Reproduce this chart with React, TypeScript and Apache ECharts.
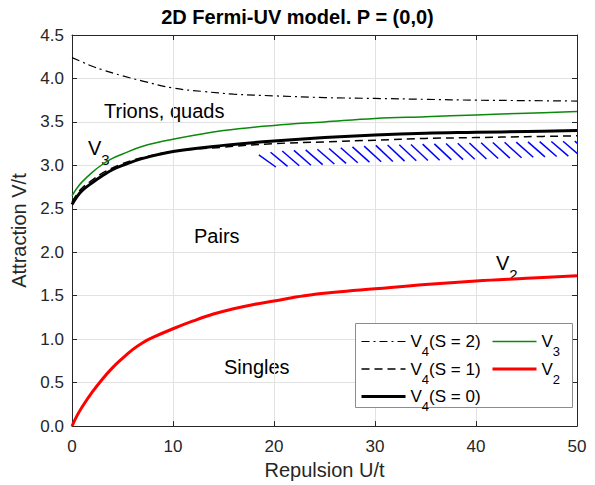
import React, { useEffect, useRef } from 'react';
import * as echarts from 'echarts';

const FONT = '"Liberation Sans", Arial, Helvetica, sans-serif';
const AXIS_COLOR = '#262626';
const GRID_COLOR = '#e2e2e2';

// V4(S = 2) dash-dot
const U_S2 = [0, 1, 2, 3, 5, 7, 10, 13, 16, 20, 25, 30, 35, 40, 45, 50];
const V_S2 = [4.24, 4.19, 4.14, 4.1, 4.03, 3.97, 3.89, 3.85, 3.82, 3.8, 3.78, 3.77, 3.76, 3.75, 3.745, 3.74];

// V4(S = 1) dashed
const U_S1 = [0, 0.5, 1, 2, 3, 4, 5, 7, 10, 15, 20, 25, 30, 35, 40, 45, 50];
const V_S1 = [2.58, 2.67, 2.74, 2.83, 2.91, 2.97, 3.02, 3.09, 3.16, 3.21, 3.25, 3.27, 3.29, 3.31, 3.32, 3.33, 3.34];

// V4(S = 0) thick black
const U_S0 = [0, 0.5, 1, 2, 3, 4, 5, 7, 10, 15, 20, 25, 30, 35, 40, 45, 50];
const V_S0 = [2.55, 2.64, 2.71, 2.8, 2.88, 2.95, 3.0, 3.08, 3.16, 3.23, 3.28, 3.32, 3.35, 3.37, 3.38, 3.39, 3.4];

// V3 green
const U_V3 = [0, 0.5, 1, 2, 3, 4, 5, 7, 10, 15, 20, 25, 30, 35, 40, 45, 50];
const V_V3 = [2.65, 2.74, 2.81, 2.92, 3.01, 3.08, 3.13, 3.22, 3.3, 3.4, 3.46, 3.5, 3.54, 3.56, 3.58, 3.6, 3.62];

// V2 red
const U_V2 = [0, 0.5, 1, 2, 3, 4, 5, 6, 7, 8, 10, 12, 14, 16, 18, 20, 23, 26, 30, 35, 40, 45, 50];
const V_V2 = [0, 0.12, 0.22, 0.39, 0.54, 0.67, 0.78, 0.88, 0.96, 1.02, 1.12, 1.21, 1.29, 1.35, 1.4, 1.44, 1.5, 1.54, 1.58, 1.63, 1.67, 1.7, 1.73];

// hatched region boundaries
const HATCH_U = [18.5, 20, 25, 30, 40, 50];
const HATCH_TOP = [3.12, 3.16, 3.19, 3.23, 3.26, 3.28];
const HATCH_BOTTOM = [2.95, 2.98, 3.01, 3.04, 3.07, 3.11];

const X_MIN = 0, X_MAX = 50, X_STEP = 10;
const Y_MIN = 0, Y_MAX = 4.5, Y_STEP = 0.5;

const NAMES = ['V4(S = 2)', 'V4(S = 1)', 'V4(S = 0)', 'V3', 'V2'];

const zip = (u: number[], v: number[]) => u.map((x, i) => [x, v[i]]);

const legendRich = {
  a: { fontSize: 17, fontFamily: FONT, color: '#000' },
  s: { fontSize: 13, fontFamily: FONT, color: '#000', padding: [20, 0, 0, 0] },
};
const annRich = {
  a: { fontSize: 20, fontFamily: FONT, fill: '#000' },
  s: { fontSize: 15, fontFamily: FONT, fill: '#000', padding: [22, 0, 0, 0] },
};

function interpY(pts: number[][], x: number) {
  if (x <= pts[0][0]) return pts[0][1];
  for (let i = 1; i < pts.length; i++) {
    if (x <= pts[i][0]) {
      const t = (x - pts[i - 1][0]) / (pts[i][0] - pts[i - 1][0]);
      return pts[i - 1][1] + t * (pts[i][1] - pts[i - 1][1]);
    }
  }
  return pts[pts.length - 1][1];
}

const legendCommon = {
  orient: 'vertical',
  itemWidth: 44,
  itemHeight: 14,
  itemGap: 2.5,
  padding: 0,
  selectedMode: false,
  lineStyle: { width: 'inherit', type: 'inherit' },
  itemStyle: { opacity: 0, color: 'rgba(0,0,0,0)', borderWidth: 0 },
  textStyle: { fontFamily: FONT, fontSize: 17, color: '#000', rich: legendRich },
  formatter: (name: string) => name.replace(/^V(\d)(.*)$/, (_m: string, d: string, rest: string) => (rest ? `{a|V}{s|${d}}{a|${rest}}` : `{a|V}{s|${d}}`)),
  z: 10,
};

export default function App() {
  const ref = useRef<HTMLDivElement>(null);
  useEffect(() => {
    if (!ref.current) return;
    const chart = echarts.init(ref.current, undefined, { renderer: 'svg' });
    const lineBase = { type: 'line', symbol: 'none', smooth: 0.4, z: 3 };
    const option: any = {
      animation: false,
      backgroundColor: '#fff',
      textStyle: { fontFamily: FONT },
      title: {
        text: '2D Fermi-UV model. P = (0,0)',
        left: 'center',
        top: 2,
        padding: [5, 0, 5, 54],
        textStyle: { fontFamily: FONT, fontSize: 20, fontWeight: 'bold', color: '#000' },
      },
      grid: { left: 72, right: 18, top: 35, bottom: 57, containLabel: false },
      xAxis: [
        {
          type: 'value', min: X_MIN, max: X_MAX, interval: X_STEP, position: 'bottom',
          name: 'Repulsion U/t', nameLocation: 'middle', nameGap: 30,
          nameTextStyle: { fontFamily: FONT, fontSize: 20, color: AXIS_COLOR },
          axisLine: { show: true, onZero: false, lineStyle: { color: AXIS_COLOR, width: 1 } },
          axisTick: { show: true, inside: true, length: 5, lineStyle: { color: AXIS_COLOR } },
          axisLabel: { fontFamily: FONT, fontSize: 17, color: AXIS_COLOR, margin: 12 },
          splitLine: { show: true, lineStyle: { color: GRID_COLOR, width: 1 } },
        },
        {
          type: 'value', min: X_MIN, max: X_MAX, interval: X_STEP, position: 'top',
          axisLine: { show: true, onZero: false, lineStyle: { color: AXIS_COLOR, width: 1 } },
          axisTick: { show: true, inside: true, length: 5, lineStyle: { color: AXIS_COLOR } },
          axisLabel: { show: false },
          splitLine: { show: false },
        },
      ],
      yAxis: [
        {
          type: 'value', min: Y_MIN, max: Y_MAX, interval: Y_STEP, position: 'left',
          name: 'Attraction V/t', nameLocation: 'middle', nameGap: 40,
          nameTextStyle: { fontFamily: FONT, fontSize: 20, color: AXIS_COLOR },
          axisLine: { show: true, onZero: false, lineStyle: { color: AXIS_COLOR, width: 1 } },
          axisTick: { show: true, inside: true, length: 5, lineStyle: { color: AXIS_COLOR } },
          axisLabel: {
            fontFamily: FONT, fontSize: 17, color: AXIS_COLOR, margin: 8,
            formatter: (v: number) => v.toFixed(1),
          },
          splitLine: { show: true, lineStyle: { color: GRID_COLOR, width: 1 } },
        },
        {
          type: 'value', min: Y_MIN, max: Y_MAX, interval: Y_STEP, position: 'right',
          axisLine: { show: true, onZero: false, lineStyle: { color: AXIS_COLOR, width: 1 } },
          axisTick: { show: true, inside: true, length: 5, lineStyle: { color: AXIS_COLOR } },
          axisLabel: { show: false },
          splitLine: { show: false },
        },
      ],
      legend: [
        { ...legendCommon, data: NAMES.slice(0, 3), left: 360, top: 333 },
        { ...legendCommon, data: NAMES.slice(3), left: 491, top: 333 },
      ],
      graphic: [
        {
          type: 'rect', left: 355, top: 323, z: 8,
          shape: { width: 217, height: 84 },
          style: { fill: '#fff', stroke: '#8c8c8c', lineWidth: 1 },
        },
        { type: 'text', left: 104, top: 101, style: { text: 'Trions, quads', font: `20px ${FONT}`, fill: '#000' } },
        { type: 'text', left: 194, top: 226, style: { text: 'Pairs', font: `20px ${FONT}`, fill: '#000' } },
        { type: 'text', left: 224, top: 357, style: { text: 'Singles', font: `20px ${FONT}`, fill: '#000' } },
        { type: 'text', left: 88, top: 138, style: { text: '{a|V}{s|3}', rich: annRich, fill: '#000' } },
        { type: 'text', left: 496, top: 253, style: { text: '{a|V}{s|2}', rich: annRich, fill: '#000' } },
      ],
      series: [
        {
          type: 'custom',
          name: 'hatch',
          clip: true,
          silent: true,
          z: 2,
          data: [[HATCH_U[0], HATCH_TOP[0]]],
          renderItem: (_params: any, api: any) => {
            const top = HATCH_U.map((u, i) => api.coord([u, HATCH_TOP[i]]));
            const bot = HATCH_U.map((u, i) => api.coord([u, HATCH_BOTTOM[i]]));
            const x0 = top[0][0];
            const x1 = top[top.length - 1][0];
            const spacing = 11.7;
            const dx = 17;
            const children: any[] = [];
            for (let x = x0; x <= x1 + 0.1; x += spacing) {
              const xe = x + dx;
              children.push({
                type: 'line',
                shape: { x1: x, y1: interpY(top, x), x2: xe, y2: interpY(bot, Math.min(xe, x1)) },
                style: { stroke: '#0000ff', lineWidth: 1.5 },
              });
            }
            return { type: 'group', children };
          },
        },
        { ...lineBase, name: NAMES[0], data: zip(U_S2, V_S2), lineStyle: { color: '#000', width: 1.2, type: [8, 4, 2, 4] } },
        { ...lineBase, name: NAMES[1], data: zip(U_S1, V_S1), lineStyle: { color: '#000', width: 1.5, type: [8, 5] } },
        { ...lineBase, name: NAMES[2], data: zip(U_S0, V_S0), lineStyle: { color: '#000', width: 3 } },
        { ...lineBase, name: NAMES[3], data: zip(U_V3, V_V3), lineStyle: { color: '#0a8a0a', width: 1.5 } },
        { ...lineBase, name: NAMES[4], data: zip(U_V2, V_V2), lineStyle: { color: '#ff0000', width: 3 } },
      ],
    };
    chart.setOption(option);
    return () => chart.dispose();
  }, []);
  return <div ref={ref} style={{ width: 595, height: 485, position: 'absolute', left: 0, top: 0 }} />;
}
